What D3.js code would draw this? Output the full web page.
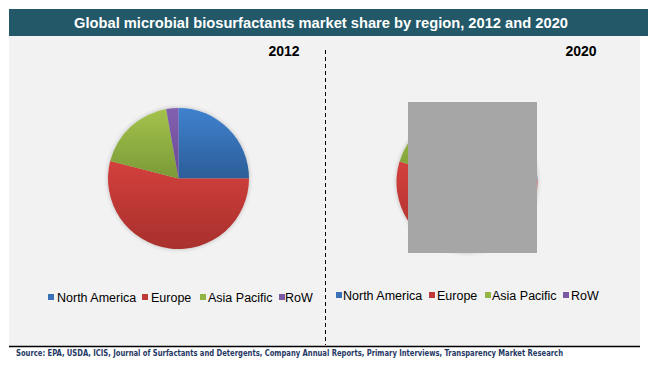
<!DOCTYPE html>
<html><head><meta charset="utf-8">
<script src="https://cdn.jsdelivr.net/npm/d3@7"></script>
<style>html,body{margin:0;padding:0;background:#fff;}svg{display:block;}</style>
</head><body>
<svg id="c" width="648" height="369"></svg>
<script>
const categories = ["North America","Europe","Asia Pacific","RoW"];
const years = ["2012","2020"];
const values2012 = [25.0, 54.0, 18.2, 2.8];
const values2020 = [24.5, 55.2, 17.3, 3.0];
const colorsTop = ["#3f82cf","#d3403d","#a3c24c","#8260b0"];
const colorsBot = ["#2c5d98","#a8302c","#7b9a36","#6a4a94"];
const legendColors = ["#3a72b8","#c03a37","#92b545","#7a58a4"];
const title = "Global microbial biosurfactants market share by region, 2012 and 2020";
const source = "Source: EPA, USDA, ICIS, Journal of Surfactants and Detergents, Company Annual Reports, Primary Interviews, Transparency Market Research";

const svg = d3.select("#c");
const defs = svg.append("defs");
categories.forEach((c,i)=>{
  const g = defs.append("linearGradient").attr("id","g"+i).attr("x1",0).attr("y1",0).attr("x2",0).attr("y2",1);
  g.append("stop").attr("offset","0%").attr("stop-color",colorsTop[i]);
  g.append("stop").attr("offset","100%").attr("stop-color",colorsBot[i]);
});
const f = defs.append("filter").attr("id","sh").attr("x","-20%").attr("y","-20%").attr("width","140%").attr("height","140%");
f.append("feGaussianBlur").attr("in","SourceAlpha").attr("stdDeviation",2).attr("result","b");
f.append("feFlood").attr("flood-color","#000").attr("flood-opacity",0.25);
f.append("feComposite").attr("in2","b").attr("operator","in").attr("result","s");
const m = f.append("feMerge"); m.append("feMergeNode").attr("in","s"); m.append("feMergeNode").attr("in","SourceGraphic");

// background panel
svg.append("rect").attr("x",9).attr("y",36).attr("width",631).attr("height",310).attr("fill","#f2f2f2");
// title bar
svg.append("rect").attr("x",9).attr("y",9).attr("width",639).attr("height",27).attr("fill","#225868");
svg.append("text").attr("x",321).attr("y",27.5).attr("text-anchor","middle")
  .attr("font-family","Liberation Sans, Arial, sans-serif").attr("font-weight","bold").attr("font-size",15)
  .attr("fill","#fff").attr("textLength",494).attr("lengthAdjust","spacingAndGlyphs").text(title);
// divider
svg.append("line").attr("x1",325.5).attr("x2",325.5).attr("y1",50).attr("y2",345)
  .attr("stroke","#000").attr("stroke-width",1).attr("stroke-dasharray","4,3");
// bottom rule
svg.append("line").attr("x1",9).attr("x2",640).attr("y1",346.5).attr("y2",346.5).attr("stroke","#000").attr("stroke-width",1.5);
svg.append("text").attr("x",16).attr("y",356).attr("font-family","DejaVu Sans Condensed, DejaVu Sans, sans-serif")
  .attr("font-weight","bold").attr("font-size",8).attr("fill","#1f3864")
  .attr("textLength",547).attr("lengthAdjust","spacingAndGlyphs").text(source);

const panels = [
  {year:years[0], vals:values2012, cx:178.5, cy:178.5, yl:284, legX:[48,142,200,279], legTX:[57,151,208,285], ly:297},
  {year:years[1], vals:values2020, cx:467, cy:182, yl:581, legX:[336,429,485,563], legTX:[343,437,492,571], ly:295}
];
const pie = d3.pie().sort(null).value(d=>d).startAngle(0).endAngle(2*Math.PI);
const arc = d3.arc().innerRadius(0).outerRadius(70.5);
panels.forEach(p=>{
  svg.append("text").attr("x",p.yl).attr("y",56).attr("text-anchor","middle")
    .attr("font-family","Liberation Sans, Arial, sans-serif").attr("font-weight","bold").attr("font-size",14)
    .attr("fill","#000").text(p.year);
  const g = svg.append("g").attr("transform",`translate(${p.cx},${p.cy})`).attr("filter","url(#sh)");
  g.selectAll("path").data(pie(p.vals)).join("path")
    .attr("d",arc).attr("fill",(d,i)=>`url(#g${i})`);
  categories.forEach((c,i)=>{
    svg.append("rect").attr("x",p.legX[i]).attr("y",p.ly-3).attr("width",6).attr("height",6).attr("fill",legendColors[i]);
    svg.append("text").attr("x",p.legTX[i]).attr("y",p.ly+4.5)
      .attr("font-family","Liberation Sans, Arial, sans-serif").attr("font-size",12.5).attr("fill","#000").text(c);
  });
});
// redaction box over 2020 pie
svg.append("rect").attr("x",408).attr("y",102).attr("width",129).attr("height",151).attr("fill","#a6a6a6");
</script>
</body></html>
